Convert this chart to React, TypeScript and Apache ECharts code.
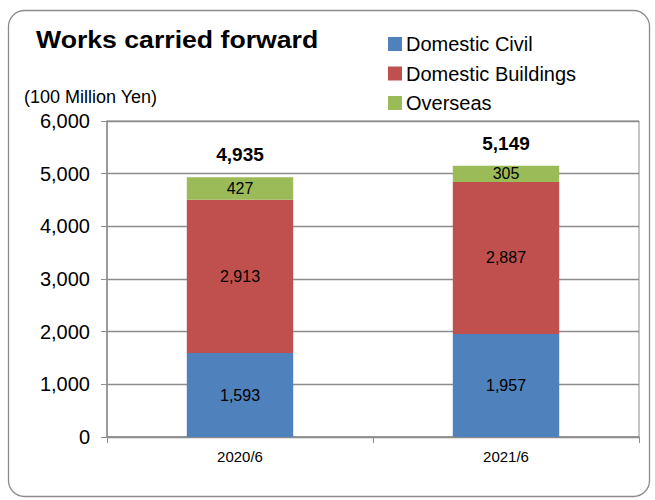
import React, { useEffect, useRef } from "react";
import * as echarts from "echarts";

const categories = ["2020/6", "2021/6"];
const domesticCivil = [1593, 1957];
const domesticBuildings = [2913, 2887];
const overseas = [427, 305];
const totals = [4935, 5149];
const seriesNames = ["Domestic Civil", "Domestic Buildings", "Overseas"];
const yTicks = { min: 0, max: 6000, interval: 1000 };

const FONT = "Arial, 'Liberation Sans', sans-serif";
const fmt = (v: number) => v.toLocaleString("en-US");

export default function App() {
  const ref = useRef<HTMLDivElement>(null);
  useEffect(() => {
    const chart = echarts.init(ref.current!, null, { renderer: "svg" });
    const inner = {
      show: true,
      position: "inside" as const,
      color: "#000",
      fontSize: 16,
      fontFamily: FONT,
      formatter: (p: any) => fmt(p.value),
    };
    chart.setOption({
      animation: false,
      textStyle: { fontFamily: FONT },
      graphic: [
        {
          type: "rect",
          shape: { x: 8.5, y: 10.5, width: 641, height: 486, r: 16 },
          style: { fill: "none", stroke: "#8c8c8c", lineWidth: 1.3 },
          z: -1,
        },
        {
          type: "text",
          x: 36,
          y: 27,
          scaleX: 1.11,
          style: { text: "Works carried forward", font: `bold 24px ${FONT}`, fill: "#000" },
        },
        {
          type: "text",
          left: 24,
          top: 88,
          style: { text: "(100 Million Yen)", font: `18px ${FONT}`, fill: "#000" },
        },
      ],
      legend: {
        data: seriesNames,
        orient: "vertical",
        left: 383,
        top: 29,
        itemWidth: 14,
        itemHeight: 14,
        itemGap: 9.5,
        icon: "rect",
        textStyle: { fontSize: 20, color: "#000", fontFamily: FONT, padding: [0, 0, 0, -1] },
      },
      grid: {
        left: 107,
        right: 16,
        top: 121,
        bottom: 63,
        show: true,
        borderColor: "#8c8c8c",
        borderWidth: 1,
      },
      xAxis: {
        type: "category",
        data: categories,
        axisLine: { lineStyle: { color: "#8c8c8c", width: 1.5 } },
        axisTick: { show: true, length: 6, lineStyle: { color: "#8c8c8c" } },
        axisLabel: { color: "#000", fontSize: 15, margin: 12, fontFamily: FONT },
      },
      yAxis: {
        type: "value",
        min: yTicks.min,
        max: yTicks.max,
        interval: yTicks.interval,
        axisLine: { show: true, lineStyle: { color: "#8c8c8c", width: 1.5 } },
        axisTick: { show: true, length: 6, lineStyle: { color: "#8c8c8c" } },
        splitLine: { lineStyle: { color: "#8c8c8c", width: 1.3 } },
        axisLabel: {
          color: "#000",
          fontSize: 20,
          margin: 17,
          fontFamily: FONT,
          formatter: (v: number) => fmt(v),
        },
      },
      series: [
        {
          name: seriesNames[0],
          type: "bar",
          stack: "a",
          barWidth: "40%",
          data: domesticCivil,
          itemStyle: { color: "#4F81BD" },
          label: inner,
        },
        {
          name: seriesNames[1],
          type: "bar",
          stack: "a",
          data: domesticBuildings,
          itemStyle: { color: "#C0504D" },
          label: inner,
        },
        {
          name: seriesNames[2],
          type: "bar",
          stack: "a",
          data: overseas,
          itemStyle: { color: "#9BBB59" },
          label: inner,
        },
        {
          name: "Total",
          type: "bar",
          stack: "a",
          data: totals.map(() => 0),
          itemStyle: { color: "transparent" },
          label: {
            show: true,
            position: "top",
            distance: 13,
            color: "#000",
            fontWeight: "bold",
            fontSize: 19,
            fontFamily: FONT,
            formatter: (p: any) => fmt(totals[p.dataIndex]),
          },
        },
      ],
    });
    return () => chart.dispose();
  }, []);
  return (
    <div
      ref={ref}
      style={{ position: "absolute", left: 0, top: 0, width: 655, height: 500, background: "#fff" }}
    />
  );
}
